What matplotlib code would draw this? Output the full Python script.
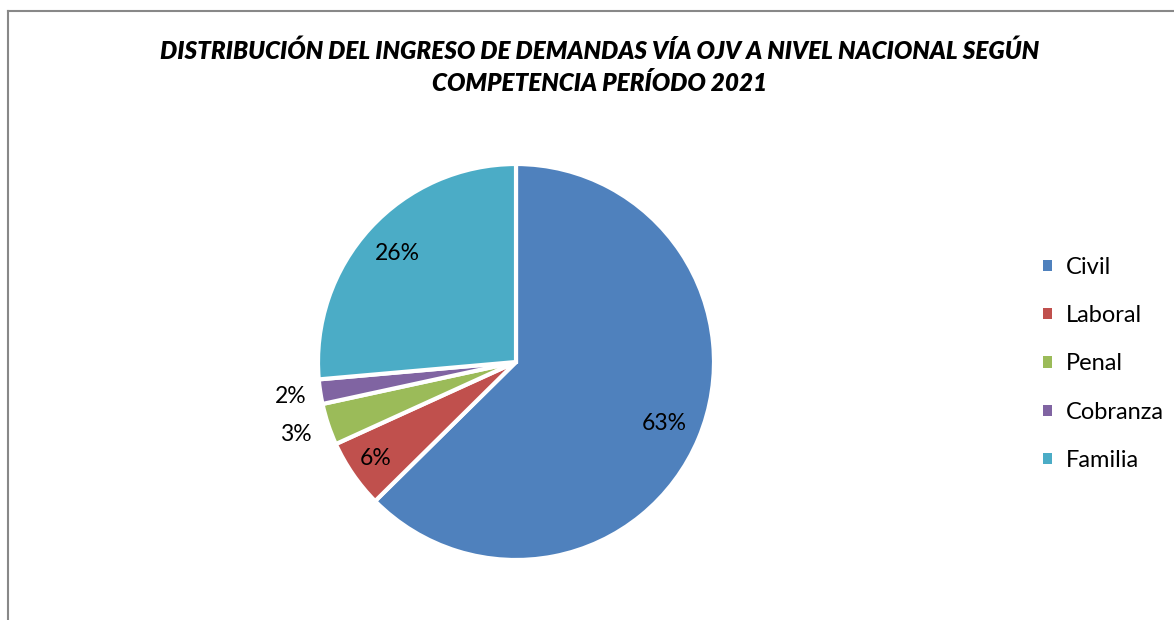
import matplotlib
matplotlib.use("Agg")
import matplotlib.pyplot as plt
import numpy as np
from matplotlib.lines import Line2D
from matplotlib.patches import Patch

categories = ["Civil", "Laboral", "Penal", "Cobranza", "Familia"]
values = [62.6, 5.6, 3.4, 2.0, 26.4]
pct_labels = ["63%", "6%", "3%", "2%", "26%"]
colors = ["#4F81BD", "#C0504D", "#9BBB59", "#8064A2", "#4BACC6"]
label_radius = [0.81, 0.86, 1.17, 1.15, 0.81]

title = "DISTRIBUCIÓN DEL INGRESO DE DEMANDAS VÍA OJV A NIVEL NACIONAL SEGÚN\nCOMPETENCIA PERÍODO 2021"

W, H = 1174, 620
fig = plt.figure(figsize=(W / 100, H / 100), dpi=100)
fig.patch.set_facecolor("white")

# chart border (left and top visible)
fig.add_artist(Line2D([8 / W, 8 / W], [0, 1 - 11 / H], color="#888888", lw=1.5, transform=fig.transFigure))
fig.add_artist(Line2D([8 / W, 1], [1 - 11 / H, 1 - 11 / H], color="#888888", lw=1.5, transform=fig.transFigure))

cx, cy, R = 516, 362, 198
pad = 1.35
aw = 2 * pad * R
ax = fig.add_axes([(cx - aw / 2) / W, (H - cy - aw / 2) / H, aw / W, aw / H])
wedges, _ = ax.pie(values, colors=colors, startangle=90, counterclock=False, radius=1,
                   wedgeprops=dict(edgecolor="white", linewidth=3))
ax.set_xlim(-pad, pad)
ax.set_ylim(-pad, pad)
ax.set_aspect("equal")
ax.axis("off")

for w, lab, r in zip(wedges, pct_labels, label_radius):
    ang = np.deg2rad((w.theta1 + w.theta2) / 2)
    ax.text(r * np.cos(ang), r * np.sin(ang), lab, ha="center", va="center",
            fontsize=16.5, family="Lato", color="black")

fig.text(600 / W, 1 - 67 / H, title, ha="center", va="center", fontsize=17.5,
         family="Lato", fontweight="heavy", fontstyle="italic", linespacing=1.48)

handles = [Patch(facecolor=c, edgecolor="none") for c in colors]
fig.legend(handles, categories, loc="center left", bbox_to_anchor=(1043 / W, 1 - 364 / H),
           frameon=False, prop=dict(family="Lato", size=17), handlelength=0.36,
           handleheight=0.36, handletextpad=0.6, labelspacing=1.16,
           borderpad=0, borderaxespad=0)

fig.savefig("out.png", dpi=100, facecolor="white")
